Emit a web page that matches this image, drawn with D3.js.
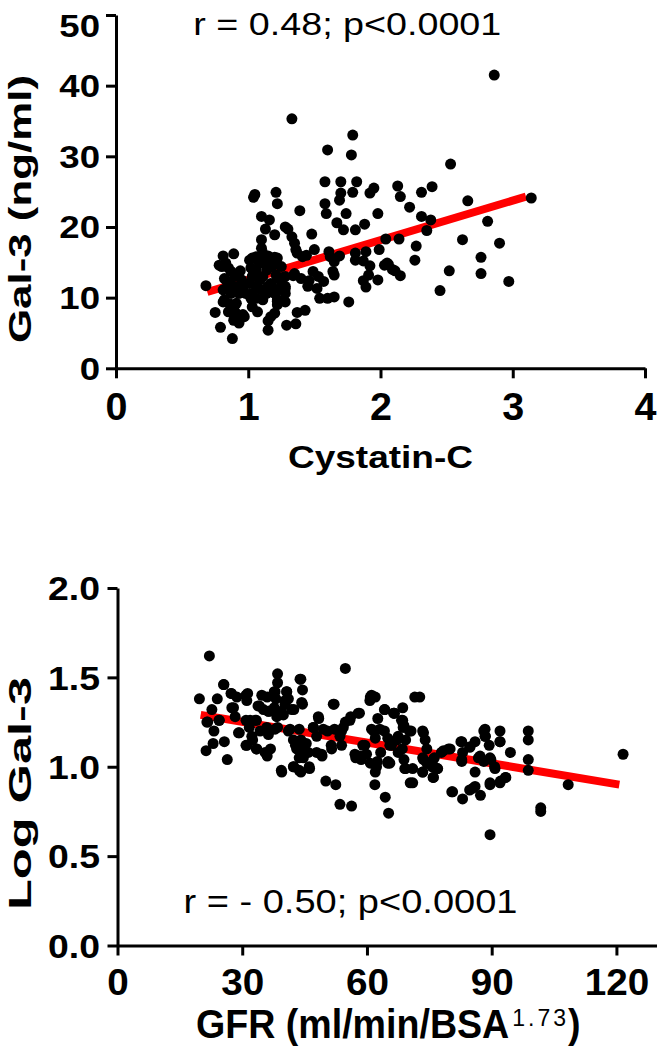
<!DOCTYPE html>
<html><head><meta charset="utf-8">
<script src="https://cdn.jsdelivr.net/npm/d3@7"></script>
<style>
body{margin:0;background:#fff}
svg{display:block}
text{font-family:"Liberation Sans",Arial,Helvetica,sans-serif;fill:#000}
</style>
</head><body>
<svg id="chart" width="657" height="1050"></svg>
<script>
// ---------- Top panel: Cystatin-C vs Gal-3 ----------
const cystatinC = [
2.86,1.33,1.79,1.60,1.78,2.53,1.58,1.70,1.82,1.05,1.04,1.21,1.22,1.39,1.58,1.59,1.70,1.69,1.79,1.92,
1.95,2.13,2.15,2.31,2.39,2.66,3.14,2.22,1.98,1.74,1.10,1.16,1.13,1.20,1.28,1.30,1.48,1.67,1.72,1.81,
1.88,2.31,2.38,2.35,2.81,2.62,2.90,2.04,2.14,2.27,2.26,1.99,
1.10,1.10,1.33,1.35,1.36,1.37,1.41,1.44,1.50,1.61,1.62,1.69,1.65,1.81,1.81,1.89,1.87,1.92,1.91,1.98,
2.03,2.06,2.11,2.15,1.87,1.89,2.76,2.76,2.52,2.45,2.97,1.76,1.60,1.65,1.54,1.52,1.57,1.65,1.64,1.53,
1.49,1.45,1.46,1.34,1.40,1.28,1.28,1.25,1.22,1.20,1.15,1.11,1.07,1.03,1.10,1.14,1.18,1.21,1.24,1.17,
1.11,1.06,1.02,1.03,1.01,1.06,1.10,1.14,1.20,1.22,1.28,1.28,1.22,1.20,1.15,1.15,1.03,1.07,1.02,1.06,1.11,
0.68,0.81,0.89,0.78,0.83,0.85,0.94,0.95,0.90,0.82,0.85,0.81,0.87,0.93,0.97,0.98,0.93,0.87,0.82,0.81,
0.86,0.91,0.90,0.94,0.97,0.89,0.93,0.75,0.79,0.88,0.85,
1.29,1.36,1.37,1.43,1.17,
0.80,0.87,0.84,0.91,0.90,0.96,1.03,1.01,1.06,1.11,1.14,1.20,1.04,1.09,1.15,1.22,1.25,1.28,1.22,1.35,
2.05,2.09
];
const gal3 = [
41.5,35.3,33.0,30.9,30.2,28.9,26.4,26.4,26.4,24.6,24.2,24.9,23.3,22.3,23.3,21.9,24.8,23.8,24.9,24.8,
25.5,25.8,24.3,24.9,25.7,23.7,24.1,22.8,21.9,21.9,21.5,21.0,19.7,18.9,20.0,19.7,19.0,20.6,19.6,19.6,
20.4,21.5,21.0,19.5,20.8,18.2,17.7,18.3,18.3,17.3,15.3,16.8,
18.2,17.0,18.6,17.7,16.8,16.3,15.8,16.0,16.8,16.5,15.8,15.9,15.1,16.3,15.3,16.5,15.2,14.5,13.2,12.5,
14.6,14.7,13.8,13.1,12.4,11.5,15.7,13.4,13.8,11.0,12.3,9.4,9.9,10.1,9.9,11.3,12.3,13.2,13.7,13.0,
13.7,11.6,12.4,13.1,12.7,11.6,13.0,14.4,15.6,15.7,15.9,15.6,15.3,15.6,14.9,13.9,14.4,13.2,12.5,12.0,
13.0,13.9,14.2,13.0,12.0,11.6,11.1,10.6,10.6,9.7,10.6,9.4,9.0,7.8,6.7,5.4,8.7,8.0,9.9,9.9,9.7,
11.7,15.9,16.2,14.6,14.9,14.2,13.8,12.5,13.0,12.7,12.0,11.1,11.8,11.3,11.8,10.6,10.6,10.6,9.7,9.4,
9.1,9.2,8.0,7.3,7.3,6.8,6.4,7.9,5.8,4.2,8.0,
6.1,6.3,7.9,8.2,7.3,
14.4,13.7,12.3,11.5,7.2,7.6,10.6,15.3,15.8,16.3,14.6,15.3,13.4,12.5,11.6,11.2,12.8,11.3,9.5,13.4,
14.9,14.0
];
const topXTicks = [0, 1, 2, 3, 4];
const topYTicks = [0, 10, 20, 30, 40, 50];
const topFitX = [0.69, 3.10];
const topFitY = [10.8, 24.3];

// ---------- Bottom panel: GFR vs Log Gal-3 ----------
const gfr = [
22.1,54.8,38.5,38.5,44.1,25.6,19.7,24.0,27.4,28.7,30.9,31.3,34.7,36.0,37.7,38.1,40.7,41.1,44.5,44.5,
60.8,62.0,71.5,72.7,52.1,22.7,21.5,24.4,23.2,23.0,21.3,25.7,26.4,27.9,28.3,29.1,30.9,33.4,33.8,35.1,
36.4,37.7,39.4,40.3,42.4,31.7,30.9,32.5,34.3,33.4,36.0,36.8,36.0,38.5,41.1,39.4,43.7,44.1,42.8,44.5,
43.7,42.4,43.7,46.2,45.4,47.1,48.4,50.5,49.2,47.9,51.4,52.2,53.9,54.8,56.1,58.2,53.9,50.1,52.5,53.5,
56.3,59.0,57.3,58.6,60.8,61.6,62.0,62.6,64.2,64.2,65.0,63.3,62.5,62.0,65.5,61.9,64.4,65.2,66.6,68.6,
68.6,68.9,70.6,67.2,69.3,68.5,65.9,68.9,69.3,71.0,71.0,73.6,74.0,74.4,73.6,74.4,73.4,75.7,77.0,76.0,
76.2,77.9,80.0,80.4,83.0,82.6,83.0,82.8,84.7,86.0,84.7,85.5,87.3,86.0,86.8,88.1,88.5,88.1,89.4,89.8,
90.7,89.6,92.0,92.0,92.1,93.3,94.5,89.6,98.8,98.8,98.8,98.8,101.8,101.8,108.4,121.6,
25.5,24.5,21.7,27.3,31.1,27.5,29.3,31.9,33.1,31.1,32.3,33.5,35.5,34.1,36.3,37.9,40.7,40.3,41.9,39.9,
38.3,43.9,44.3,35.9,37.9,36.3,41.5,42.3,43.1,44.7,45.9,44.7,39.5,42.3,44.1,46.1,48.3,47.1,49.5,47.9,
49.1,51.5,51.9,54.3,53.5,55.9,57.9,61.1,60.7,64.3,66.4,68.3,61.1,63.1,59.5,57.1,58.3,59.9,62.3,65.0,
67.5,67.5,70.4,
66.5,68.7,70.2,73.4,73.4,75.9,76.9,75.9,78.4,79.6,82.8,82.8,84.8,87.2,88.4,88.4,89.6,90.8,92.0,93.4,
92.0,89.6,86.0,80.6,65.5,65.1,69.1,73.4
];
const logGal3 = [
1.62,1.55,1.52,1.47,1.49,1.46,1.38,1.38,1.41,1.39,1.40,1.41,1.40,1.39,1.42,1.38,1.42,1.38,1.43,1.35,
1.39,1.39,1.39,1.39,1.35,1.32,1.25,1.26,1.20,1.13,1.09,1.14,1.04,1.33,1.28,1.19,1.26,1.26,1.34,1.32,
1.31,1.33,1.31,1.35,1.32,1.22,1.12,1.15,1.20,1.10,1.06,1.10,1.20,1.22,1.20,0.98,1.21,1.15,1.12,1.10,
1.05,1.00,0.98,0.99,1.13,1.22,1.27,1.20,1.06,1.08,1.12,1.21,1.20,1.25,1.28,1.30,1.12,0.92,0.90,0.79,
0.78,1.12,1.05,1.04,1.02,1.20,1.16,1.27,1.32,1.20,1.16,1.08,1.03,0.97,1.02,0.90,0.83,0.74,1.30,1.33,
1.26,1.23,1.20,1.15,1.15,1.10,1.12,1.04,0.99,0.99,0.91,1.19,1.15,1.10,1.04,1.02,0.97,1.00,0.99,0.94,
1.05,1.08,1.10,0.86,0.82,1.14,1.08,1.03,1.11,1.14,0.87,0.88,0.84,0.97,1.05,1.20,1.17,1.03,1.12,1.04,
1.00,0.91,1.20,1.14,0.92,0.94,1.08,0.62,1.20,1.15,1.04,0.98,0.77,0.75,0.90,1.07,
1.46,1.26,1.25,1.41,1.37,1.33,1.19,1.26,1.26,1.12,1.17,1.10,1.08,1.34,1.31,1.42,1.42,1.37,1.32,1.29,
1.28,1.49,1.36,1.22,1.21,1.18,1.21,1.15,1.10,1.12,1.08,1.05,0.97,1.00,0.97,1.00,1.28,1.22,1.21,1.17,
1.07,1.10,1.35,1.22,1.17,1.26,1.30,1.40,1.37,1.32,1.30,1.26,1.21,1.21,1.12,1.07,1.06,1.07,1.00,1.02,
1.17,1.08,0.91,
1.30,1.22,1.20,1.20,1.05,1.04,0.99,0.94,1.09,1.10,1.14,1.04,1.11,1.06,1.21,1.17,1.05,0.99,1.14,0.94,
0.91,0.90,0.89,0.86,1.12,1.03,0.99,0.97
];
const botXTicks = [0, 30, 60, 90, 120];
const botYTicks = [0, 0.5, 1.0, 1.5, 2.0];
const botFitX = [20, 120.7];
const botFitY = [1.29, 0.90];

// ---------- drawing ----------
const svg = d3.select("#chart");

function fitWidth(sel, w) {
  sel.attr("textLength", w).attr("lengthAdjust", "spacingAndGlyphs");
}
function stretch(sel, k) {
  sel.each(function () {
    const w = this.getComputedTextLength();
    d3.select(this).attr("textLength", w * k).attr("lengthAdjust", "spacingAndGlyphs");
  });
}

function drawPanel(cfg) {
  const g = svg.append("g");
  const x = d3.scaleLinear().domain(cfg.xDomain).range(cfg.xRange);
  const y = d3.scaleLinear().domain(cfg.yDomain).range(cfg.yRange);

  g.append("path")
    .datum(cfg.fitX.map((v, i) => [v, cfg.fitY[i]]))
    .attr("d", d3.line().x(d => x(d[0])).y(d => y(d[1])))
    .attr("stroke", "#ff0000").attr("stroke-width", 8).attr("fill", "none");

  g.append("g").selectAll("circle")
    .data(cfg.xs.map((v, i) => [v, cfg.ys[i]]))
    .join("circle")
    .attr("cx", d => x(d[0])).attr("cy", d => y(d[1])).attr("r", 5.5).attr("fill", "#000");

  const gx = g.append("g").attr("transform", `translate(0,${y(0)})`)
    .call(d3.axisBottom(x).tickValues(cfg.xTicks).tickSize(10).tickSizeOuter(0).tickFormat(cfg.xFmt));
  const gy = g.append("g").attr("transform", `translate(${x(0)},0)`)
    .call(d3.axisLeft(y).tickValues(cfg.yTicks).tickSize(10).tickSizeOuter(0).tickFormat(cfg.yFmt));

  [gx, gy].forEach(a => {
    a.attr("font-family", null).attr("font-size", null);
    a.select(".domain").attr("stroke", "#000").attr("stroke-width", 3);
    a.selectAll(".tick line").attr("stroke", "#000").attr("stroke-width", 3);
  });
  gx.selectAll(".tick text")
    .attr("y", cfg.xLabelY).attr("dy", null)
    .style("font-size", cfg.xLabelSize + "px").style("font-weight", "bold");
  stretch(gx.selectAll(".tick text"), cfg.xLabelK);
  gy.selectAll(".tick text")
    .attr("x", cfg.yLabelX).attr("dy", "0.36em")
    .style("font-size", cfg.yLabelSize + "px").style("font-weight", "bold");
  stretch(gy.selectAll(".tick text"), cfg.yLabelK);
  return { g, x, y, gx, gy };
}

const topPanel = drawPanel({
  xs: cystatinC, ys: gal3,
  xDomain: [0, 4], xRange: [116, 645],
  yDomain: [0, 50], yRange: [368.3, 15],
  xTicks: topXTicks, yTicks: topYTicks,
  xFmt: d3.format("d"), yFmt: d3.format("d"),
  fitX: topFitX, fitY: topFitY,
  xLabelY: 51.7, xLabelSize: 39.5, xLabelK: 1.0,
  yLabelX: -16, yLabelSize: 30.5, yLabelK: 1.2
});
topPanel.gy.selectAll(".tick").filter(d => d === 50).select("text").attr("transform", "translate(0,11)");

const botPanel = drawPanel({
  xs: gfr, ys: logGal3,
  xDomain: [0, 130], xRange: [117.5, 658],
  yDomain: [0, 2], yRange: [945.5, 588],
  xTicks: botXTicks, yTicks: botYTicks,
  xFmt: d3.format("d"), yFmt: d3.format(".1f"),
  fitX: botFitX, fitY: botFitY,
  xLabelY: 49, xLabelSize: 36.5, xLabelK: 1.06,
  yLabelX: -17.5, yLabelSize: 32.5, yLabelK: 1.15
});

// ---------- texts ----------
svg.append("text").attr("x", 193.3).attr("y", 35)
  .style("font-size", "30.5px").text("r = 0.48; p<0.0001").call(fitWidth, 308);

svg.append("text").attr("x", 183.5).attr("y", 913.3)
  .style("font-size", "32.5px").text("r = - 0.50; p<0.0001").call(fitWidth, 334);

svg.append("text").attr("x", 380.5).attr("y", 468).attr("text-anchor", "middle")
  .style("font-size", "32px").style("font-weight", "bold").text("Cystatin-C").call(fitWidth, 185);

svg.append("text").attr("transform", "translate(30.6,209) rotate(-90)").attr("text-anchor", "middle")
  .style("font-size", "30.5px").style("font-weight", "bold").text("Gal-3 (ng/ml)").call(fitWidth, 268);

svg.append("text").attr("transform", "translate(30.5,793.5) rotate(-90)").attr("text-anchor", "middle")
  .style("font-size", "31.5px").style("font-weight", "bold").text("Log Gal-3").call(fitWidth, 233);

// GFR axis title as one text element with a superscript tspan
const gfrTitle = svg.append("text")
  .attr("transform", "translate(196,1038) scale(1,1.06)")
  .style("font-size", "37.6px").style("font-weight", "bold");
gfrTitle.append("tspan").text("GFR (ml/min/BSA");
gfrTitle.append("tspan").attr("dx", 3).attr("dy", -11.5)
  .style("font-size", "23px").style("font-weight", "normal").style("letter-spacing", "3px").text("1.73");
gfrTitle.append("tspan").attr("dx", -1).attr("dy", 11.5).text(")");
</script>
</body></html>
